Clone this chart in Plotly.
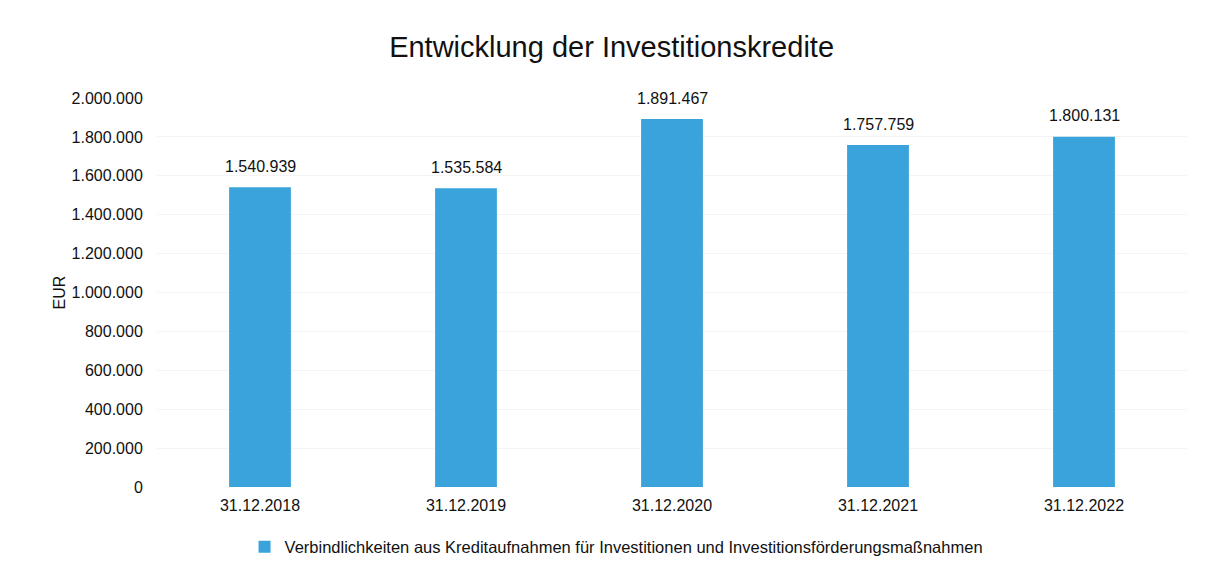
import plotly.graph_objects as go

categories = ["31.12.2018", "31.12.2019", "31.12.2020", "31.12.2021", "31.12.2022"]
values = [1540939, 1535584, 1891467, 1757759, 1800131]
series_name = "Verbindlichkeiten aus Kreditaufnahmen für Investitionen und Investitionsförderungsmaßnahmen"
title = "Entwicklung der Investitionskredite"
y_title = "EUR"
y_ticks = [0, 200000, 400000, 600000, 800000, 1000000, 1200000, 1400000, 1600000, 1800000, 2000000]

def de_fmt(v):
    return f"{v:,d}".replace(",", ".")

fig = go.Figure()
fig.add_trace(go.Bar(
    x=categories, y=values, name=series_name,
    marker=dict(color="#3aa3dc", line=dict(width=0)),
    width=0.3,
    showlegend=True,
))

for c, v in zip(categories, values):
    fig.add_annotation(x=c, y=v, text=de_fmt(v), showarrow=False,
                       yanchor="middle", yshift=21,
                       font=dict(size=16, color="#111111"))

fig.update_layout(
    width=1212, height=573,
    paper_bgcolor="white", plot_bgcolor="white",
    font=dict(family="Liberation Sans, Arial, sans-serif", size=16, color="#111111"),
    separators=",.",
    title=dict(text=title, x=0.498, xanchor="center", y=0.932, yanchor="middle",
               font=dict(size=29, color="#111111")),
    margin=dict(l=149, r=33, t=90, b=94),
    xaxis=dict(showgrid=False, showline=False, ticks="outside", ticklen=4,
               tickcolor="white", tickfont=dict(size=16)),
    yaxis=dict(range=[0, 2000000], tickvals=y_ticks, tickformat=",d",
               showgrid=True, gridcolor="#f4f4f4", zeroline=False, showline=False,
               ticks="outside", ticklen=10, tickcolor="white", tickfont=dict(size=16),
               title=dict(text=y_title, font=dict(size=16), standoff=2)),
    legend=dict(orientation="h", x=0.085, xanchor="left", y=-0.154, yanchor="middle",
                font=dict(size=16.5), itemwidth=30),
)

fig.write_html("out.html")
